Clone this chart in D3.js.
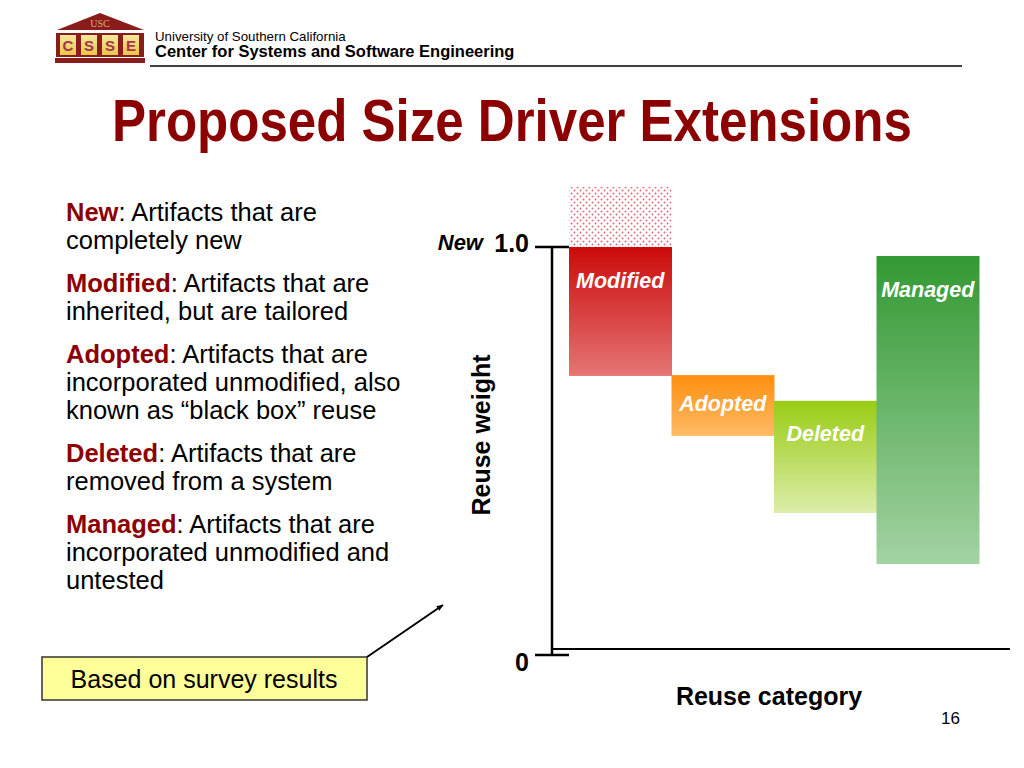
<!DOCTYPE html>
<html>
<head>
<meta charset="utf-8">
<script src="https://cdn.jsdelivr.net/npm/d3@7"></script>
<style>
  html, body { margin: 0; padding: 0; background: #fff; }
  svg { display: block; font-family: "Liberation Sans", Arial, sans-serif; }
</style>
</head>
<body>
<svg id="chart" width="1024" height="768"></svg>
<script>
// ---- data ----
const categories = ["Modified", "Adopted", "Deleted", "Managed"];
const barTop    = [1.0, 0.686, 0.623, 0.978];
const barBottom = [0.684, 0.537, 0.348, 0.223];
const newRange  = [1.0, 1.147];          // dotted "New" band above Modified
const tickValues = [0, 1.0];
const tickLabels = ["0", "1.0"];

const definitions = [
  { term: "New", lines: [": Artifacts that are", "completely new"] },
  { term: "Modified", lines: [": Artifacts that are", "inherited, but are tailored"] },
  { term: "Adopted", lines: [": Artifacts that are", "incorporated unmodified, also", "known as \u201cblack box\u201d reuse"] },
  { term: "Deleted", lines: [": Artifacts that are", "removed from a system"] },
  { term: "Managed", lines: [": Artifacts that are", "incorporated unmodified and", "untested"] }
];

// ---- styles ----
const gradColors = {
  Modified: ["#cc0a0a", "#e57575"],
  Adopted:  ["#ff8e0e", "#ffbb66"],
  Deleted:  ["#99cc14", "#dcedaa"],
  Managed:  ["#339933", "#a3d2a3"]
};
const darkRed = "#8b0000";

const svg = d3.select("#chart");
const defs = svg.append("defs");

categories.forEach(c => {
  const g = defs.append("linearGradient").attr("id", "g-" + c)
    .attr("x1", 0).attr("y1", 0).attr("x2", 0).attr("y2", 1);
  g.append("stop").attr("offset", "0%").attr("stop-color", gradColors[c][0]);
  g.append("stop").attr("offset", "100%").attr("stop-color", gradColors[c][1]);
});
const pat = defs.append("pattern").attr("id", "dots")
  .attr("patternUnits", "userSpaceOnUse").attr("width", 6).attr("height", 6);
pat.append("rect").attr("width", 6).attr("height", 6).attr("fill", "#fff");
pat.append("circle").attr("cx", 1.5).attr("cy", 1.5).attr("r", 1).attr("fill", "#e06a78");
pat.append("circle").attr("cx", 4.5).attr("cy", 4.5).attr("r", 1).attr("fill", "#e06a78");
const logoGrad = defs.append("linearGradient").attr("id", "logoG")
  .attr("x1", 0).attr("y1", 0).attr("x2", 0).attr("y2", 1);
logoGrad.append("stop").attr("offset", "0%").attr("stop-color", "#f7e7a0");
logoGrad.append("stop").attr("offset", "100%").attr("stop-color", "#e9c64a");
const arrowM = defs.append("marker").attr("id", "arrow")
  .attr("viewBox", "0 0 10 10").attr("refX", 9).attr("refY", 5)
  .attr("markerWidth", 7).attr("markerHeight", 7).attr("orient", "auto")
  .attr("markerUnits", "userSpaceOnUse");
arrowM.append("path").attr("d", "M0,1 L10,5 L0,9 Z").attr("fill", "#000");

// ---- header / logo ----
const logo = svg.append("g");
logo.append("path").attr("d", "M57,30 L100,13 L144,30 Z").attr("fill", "#8a1c1c");
logo.append("text").attr("x", 100).attr("y", 27).attr("text-anchor", "middle")
  .attr("font-family", "Liberation Serif, serif").attr("font-size", 10)
  .attr("fill", "#d8b27a").text("USC");
logo.append("rect").attr("x", 56).attr("y", 33).attr("width", 88).attr("height", 24).attr("fill", "#8a1c1c");
const letters = ["C", "S", "S", "E"];
letters.forEach((l, i) => {
  const x0 = 60 + i * 21;
  logo.append("rect").attr("x", x0).attr("y", 35).attr("width", 16).attr("height", 20).attr("fill", "url(#logoG)");
  logo.append("text").attr("x", x0 + 8).attr("y", 51).attr("text-anchor", "middle")
    .attr("font-size", 15).attr("font-weight", "bold").attr("fill", "#a8344a").text(l);
});
logo.append("rect").attr("x", 55).attr("y", 58).attr("width", 90).attr("height", 5).attr("fill", "#8a1c1c");

svg.append("text").attr("x", 155).attr("y", 41).attr("font-size", 13.3).attr("fill", "#000")
  .text("University of Southern California");
svg.append("text").attr("x", 155).attr("y", 57).attr("font-size", 16.5).attr("font-weight", "bold").attr("fill", "#000")
  .text("Center for Systems and Software Engineering");
svg.append("line").attr("x1", 150).attr("x2", 962).attr("y1", 66).attr("y2", 66)
  .attr("stroke", "#000").attr("stroke-width", 1.5);

// ---- title (horizontally condensed via transform) ----
const titleG = svg.append("g");
const title = titleG.append("text").attr("x", 0).attr("y", 0)
  .attr("font-size", 59).attr("font-weight", "bold").attr("fill", darkRed)
  .text("Proposed Size Driver Extensions");
const natW = title.node().getComputedTextLength() || 1000;
titleG.attr("transform", `translate(112,141) scale(${800 / natW},1)`);

// ---- definitions text ----
const defG = svg.append("g");
let yCur = 221;
definitions.forEach(d => {
  d.lines.forEach((ln, i) => {
    const t = defG.append("text").attr("x", 66).attr("y", yCur).attr("font-size", 25.5).attr("fill", "#000");
    if (i === 0) {
      t.append("tspan").attr("font-weight", "bold").attr("fill", darkRed).text(d.term);
      t.append("tspan").text(ln);
    } else {
      t.text(ln);
    }
    yCur += 28.3;
  });
  yCur += 14.2;
});

// ---- chart ----
const y = d3.scaleLinear().domain([0, 1]).range([655, 247]);
const x = d3.scaleBand().domain(categories).range([569, 979]).padding(0);
const axisX = 552;

// dotted New band
svg.append("rect")
  .attr("x", x("Modified")).attr("width", x.bandwidth())
  .attr("y", y(newRange[1])).attr("height", y(newRange[0]) - y(newRange[1]))
  .attr("fill", "url(#dots)");

// bars
const bars = categories.map((c, i) => ({ c, top: barTop[i], bottom: barBottom[i] }));
svg.append("g").selectAll("rect").data(bars).join("rect")
  .attr("x", d => x(d.c)).attr("width", x.bandwidth() + 0.5)
  .attr("y", d => y(d.top)).attr("height", d => y(d.bottom) - y(d.top))
  .attr("fill", d => "url(#g-" + d.c + ")");

svg.append("g").selectAll("text").data(bars).join("text")
  .attr("x", d => x(d.c) + x.bandwidth() / 2)
  .attr("y", d => y(d.top) + Math.min(33, (y(d.bottom) - y(d.top)) / 2 - 2))
  .attr("dy", "0.35em")
  .attr("text-anchor", "middle")
  .attr("font-size", 21.5).attr("font-weight", "bold").attr("font-style", "italic")
  .attr("fill", "#fff")
  .text(d => d.c);

// axes
svg.append("line").attr("x1", axisX).attr("x2", axisX)
  .attr("y1", y(1)).attr("y2", y(0)).attr("stroke", "#000").attr("stroke-width", 2.5);
svg.append("line").attr("x1", axisX).attr("x2", 1010)
  .attr("y1", y(0) - 6).attr("y2", y(0) - 6).attr("stroke", "#000").attr("stroke-width", 2);

const ticks = svg.append("g").selectAll("g").data(tickValues).join("g");
ticks.append("line").attr("x1", 535).attr("x2", 569)
  .attr("y1", d => y(d)).attr("y2", d => y(d)).attr("stroke", "#000").attr("stroke-width", 2.5);
ticks.append("text").attr("x", 529)
  .attr("y", (d, i) => y(d) + (d === 0 ? 16 : 5))
  .attr("text-anchor", "end").attr("font-size", 25).attr("font-weight", "bold")
  .text((d, i) => tickLabels[i]);

svg.append("text").attr("x", 483).attr("y", 250).attr("text-anchor", "end")
  .attr("font-size", 22).attr("font-weight", "bold").attr("font-style", "italic").text("New");

svg.append("text").attr("transform", "translate(490,435) rotate(-90)")
  .attr("text-anchor", "middle").attr("font-size", 25).attr("font-weight", "bold")
  .text("Reuse weight");
svg.append("text").attr("x", 769).attr("y", 705)
  .attr("text-anchor", "middle").attr("font-size", 25).attr("font-weight", "bold")
  .text("Reuse category");

// callout
svg.append("rect").attr("x", 42).attr("y", 657).attr("width", 325).attr("height", 43)
  .attr("fill", "#ffff99").attr("stroke", "#333").attr("stroke-width", 1.5);
svg.append("text").attr("x", 204).attr("y", 688).attr("text-anchor", "middle")
  .attr("font-size", 25).attr("fill", "#000").text("Based on survey results");
svg.append("line").attr("x1", 367).attr("y1", 657).attr("x2", 443).attr("y2", 605)
  .attr("stroke", "#000").attr("stroke-width", 2).attr("marker-end", "url(#arrow)");

// page number
svg.append("text").attr("x", 960).attr("y", 724).attr("text-anchor", "end")
  .attr("font-size", 17).attr("fill", "#000").text("16");
</script>
</body>
</html>
